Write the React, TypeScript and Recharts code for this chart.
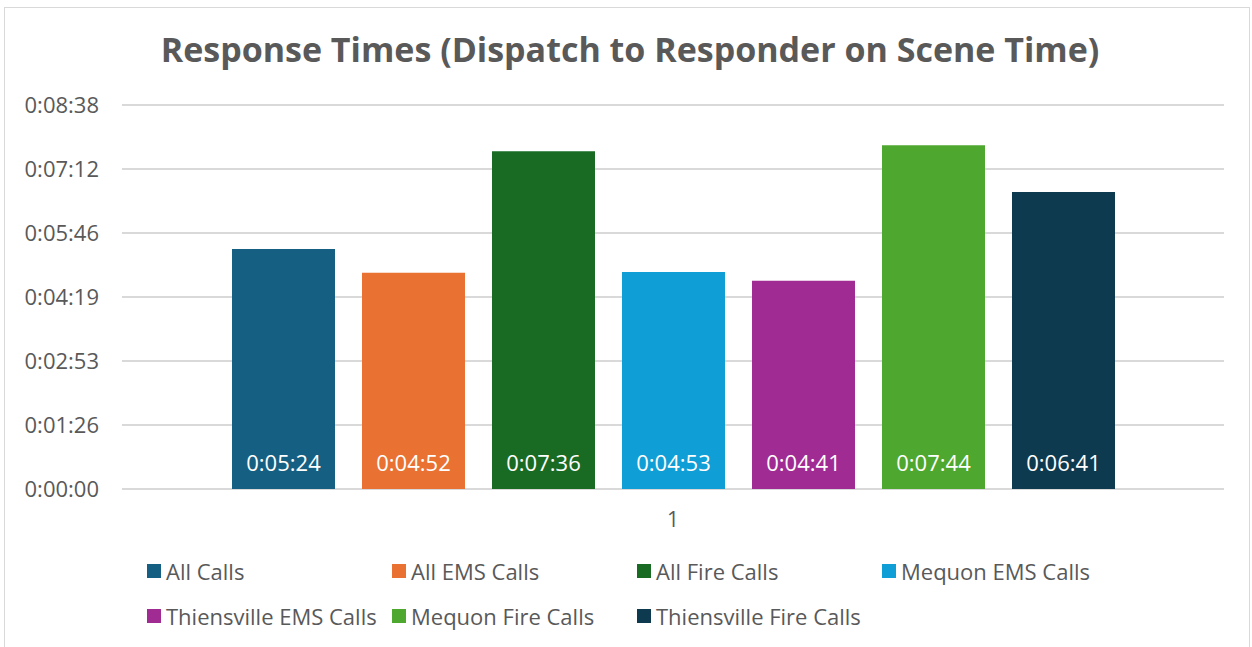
import { BarChart, Bar, XAxis, YAxis, CartesianGrid, LabelList } from 'recharts'

const seriesNames = [
  'All Calls',
  'All EMS Calls',
  'All Fire Calls',
  'Mequon EMS Calls',
  'Thiensville EMS Calls',
  'Mequon Fire Calls',
  'Thiensville Fire Calls',
]
const seriesColors = ['#156082', '#E97132', '#196B24', '#0F9ED5', '#A02B93', '#4EA72E', '#0E3A50']
// seconds
const seriesValues = [324, 292, 456, 293, 281, 464, 401]
const category = '1'
const yTicks = [0, 86.4, 172.8, 259.2, 345.6, 432, 518.4]

const row: Record<string, string | number> = { name: category }
seriesNames.forEach((n, i) => { row[n] = seriesValues[i] })
const data = [row]

const fmt = (v: number) => {
  const s = Math.round(v)
  const h = Math.floor(s / 3600)
  const m = Math.floor((s % 3600) / 60)
  const sec = s % 60
  return `${h}:${String(m).padStart(2, '0')}:${String(sec).padStart(2, '0')}`
}

const FONT = '"Open Sans", sans-serif'
const GRAY = '#595959'

export default function App() {
  return (
    <div style={{ position: 'absolute', left: 0, top: 0, width: 1252, height: 647, background: '#fff', fontFamily: FONT, overflow: 'hidden' }}>
      <div style={{ position: 'absolute', left: 4, top: 7, width: 1246, height: 660, border: '1.5px solid #d9d9d9', boxSizing: 'border-box' }} />
      <div style={{ position: 'absolute', left: 0, top: 26, width: 1260, textAlign: 'center', fontSize: 34, fontWeight: 700, color: GRAY, whiteSpace: 'nowrap' }}>
        Response Times (Dispatch to Responder on Scene Time)
      </div>
      <BarChart
        width={1252}
        height={647}
        data={data}
        margin={{ top: 105, right: 28, left: 0, bottom: 0 }}
        barSize={103}
        barGap={27}
        style={{ position: 'absolute', left: 0, top: 0 }}
      >
        <CartesianGrid vertical={false} stroke="#d9d9d9" strokeWidth={2} />
        <XAxis
          dataKey="name"
          height={158}
          tickLine={false}
          axisLine={false}
          tickMargin={17}
          tick={{ fill: GRAY, fontSize: 21, fontFamily: FONT }}
        />
        <YAxis
          width={122}
          domain={[0, 518.4]}
          ticks={yTicks}
          tickFormatter={fmt}
          tickLine={false}
          axisLine={false}
          tickMargin={17}
          tick={{ fill: GRAY, fontSize: 22, fontFamily: FONT }}
        />
        {seriesNames.map((n, i) => (
          <Bar key={n} dataKey={n} fill={seriesColors[i]} isAnimationActive={false}>
            <LabelList
              dataKey={n}
              position="insideBottom"
              offset={18}
              fill="#ffffff"
              fontSize={22}
              fontFamily={FONT}
              formatter={(v: any) => fmt(Number(v))}
            />
          </Bar>
        ))}
      </BarChart>
      <div style={{ position: 'absolute', left: 147, top: 557, width: 1000, display: 'flex', flexWrap: 'wrap', rowGap: 17 }}>
        {seriesNames.map((n, i) => (
          <div key={n} style={{ width: 245, height: 28, display: 'flex', alignItems: 'center', color: GRAY, fontSize: 22 }}>
            <span style={{ width: 14, height: 14, background: seriesColors[i], marginRight: 5, flexShrink: 0 }} />
            <span style={{ whiteSpace: 'nowrap' }}>{n}</span>
          </div>
        ))}
      </div>
    </div>
  )
}
